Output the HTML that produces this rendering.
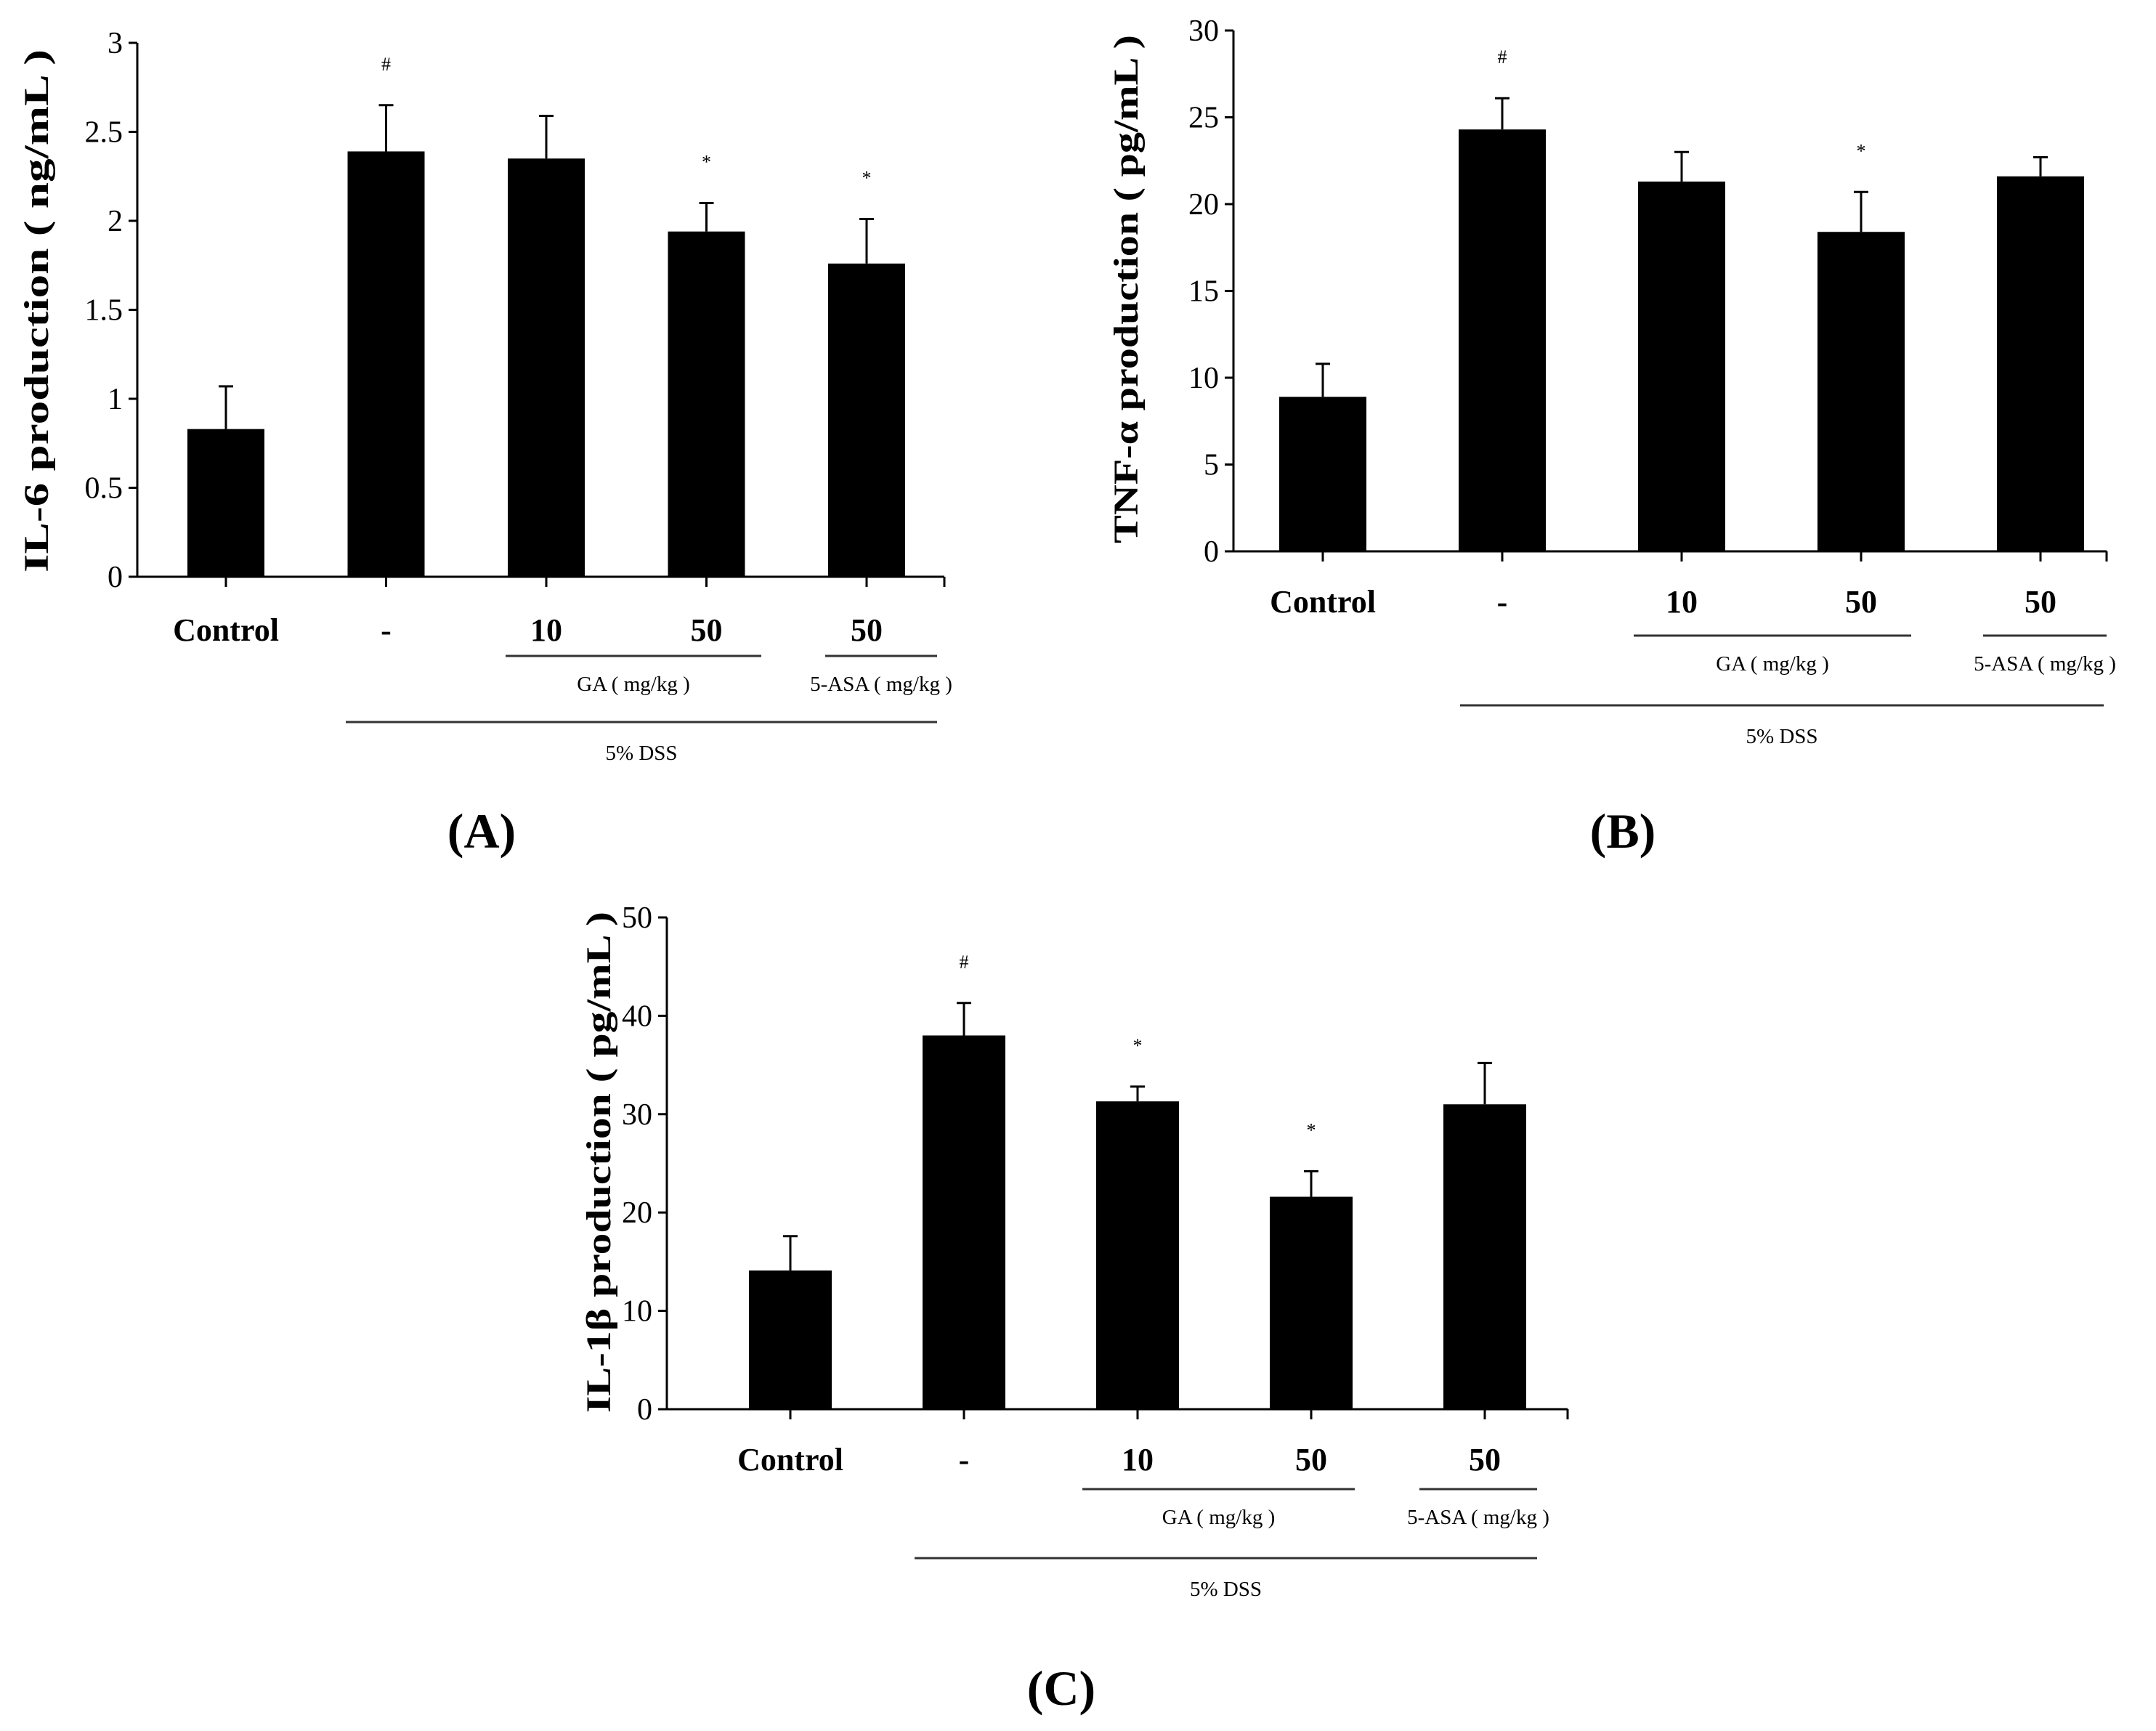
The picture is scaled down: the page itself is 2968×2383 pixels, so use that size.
<!DOCTYPE html>
<html><head><meta charset="utf-8"><style>
html,body{margin:0;padding:0;background:#fff;}
svg{display:block;}
text{font-family:"Liberation Serif",serif;fill:#000;}
</style></head><body>
<svg id="fig" width="2968" height="2383" viewBox="0 0 2968 2383" xmlns="http://www.w3.org/2000/svg"></svg>
<script>
const groups = ["Control","-","10","50","50"];
const il6Values = [0.83, 2.39, 2.35, 1.94, 1.76];
const il6Errors = [0.24, 0.26, 0.24, 0.16, 0.25];
const il6Marks = ["", "#", "", "*", "*"];
const il6Ticks = [0, 0.5, 1, 1.5, 2, 2.5, 3];
const tnfValues = [8.9, 24.3, 21.3, 18.4, 21.6];
const tnfErrors = [1.9, 1.8, 1.7, 2.3, 1.1];
const tnfMarks = ["", "#", "", "*", ""];
const tnfTicks = [0, 5, 10, 15, 20, 25, 30];
const il1bValues = [14.1, 38.0, 31.3, 21.6, 31.0];
const il1bErrors = [3.5, 3.3, 1.5, 2.6, 4.2];
const il1bMarks = ["", "#", "*", "*", ""];
const il1bTicks = [0, 10, 20, 30, 40, 50];

const svg = document.getElementById('fig');
const NS = "http://www.w3.org/2000/svg";
function mk(tag, attrs, parent){
  const e = document.createElementNS(NS, tag);
  for (const k in attrs) e.setAttribute(k, attrs[k]);
  (parent||svg).appendChild(e);
  return e;
}

function panel(cfg){
  const g = mk('g', {});
  
  
  const max = cfg.ticks[cfg.ticks.length-1];
  const y = v => cfg.y0 - (v/max)*(cfg.y0-cfg.yTop);
  const x = i => cfg.x0 + cfg.first + i*cfg.step;
  const ya = mk('line',{x1:cfg.x0,y1:cfg.yTop,x2:cfg.x0,y2:cfg.y0,stroke:'#000','stroke-width':3},g);
   
  const xa = mk('line',{x1:cfg.x0-12,y1:cfg.y0,x2:cfg.xEnd,y2:cfg.y0,stroke:'#000','stroke-width':3},g);
   
  mk('line',{x1:cfg.xEnd,y1:cfg.y0,x2:cfg.xEnd,y2:cfg.y0+14,stroke:'#000','stroke-width':3},g);
  cfg.ticks.forEach(t=>{
    mk('line',{x1:cfg.x0-12,y1:y(t),x2:cfg.x0,y2:y(t),stroke:'#000','stroke-width':3},g);
    const tl = mk('text',{x:cfg.x0-20,y:y(t)+14,'text-anchor':'end','font-size':42},g);
    tl.textContent = t;
     
  });
  cfg.values.forEach((v,i)=>{
    const cx = x(i);
    const b = mk('rect',{x:cx-cfg.bw/2,y:y(v),width:cfg.bw,height:cfg.y0-y(v),fill:'#000'},g);
     
    const top = y(v+cfg.errors[i]);
    const e = mk('line',{x1:cx,y1:y(v),x2:cx,y2:top,stroke:'#000','stroke-width':3},g);
     
    mk('line',{x1:cx-10,y1:top,x2:cx+10,y2:top,stroke:'#000','stroke-width':3},g);
    mk('line',{x1:cx,y1:cfg.y0,x2:cx,y2:cfg.y0+14,stroke:'#000','stroke-width':3},g);
    if (cfg.marks[i]) {
      const m = mk('text',{x:cx,y:top-48,'text-anchor':'middle','font-size':26,fill:'#444'},g);
      m.textContent = cfg.marks[i];
       
    }
    const cl = mk('text',{x:cx,y:cfg.catY,'text-anchor':'middle','font-size':44,'font-weight':'bold'},g);
    cl.textContent = groups[i];
     
  });
  const yt = mk('text',{x:0,y:0,'text-anchor':'middle','font-size':48,'font-weight':'bold',
    transform:`translate(${cfg.titleX},${cfg.titleY}) rotate(-90)`,textLength:cfg.titleLen,lengthAdjust:'spacingAndGlyphs'},g);
  yt.textContent = cfg.title;
   
  const L = cfg.lines;
  mk('line',{x1:L.ga[0],y1:L.ga[1],x2:L.ga[2],y2:L.ga[1],stroke:'#333','stroke-width':3},g);
  mk('line',{x1:L.asa[0],y1:L.asa[1],x2:L.asa[2],y2:L.asa[1],stroke:'#333','stroke-width':3},g);
  mk('line',{x1:L.dss[0],y1:L.dss[1],x2:L.dss[2],y2:L.dss[1],stroke:'#333','stroke-width':3},g);
  const t1 = mk('text',{x:(L.ga[0]+L.ga[2])/2,y:L.ga[1]+48,'text-anchor':'middle','font-size':29},g);
  t1.textContent='GA ( mg/kg )';  
  const t2 = mk('text',{x:(L.asa[0]+L.asa[2])/2,y:L.asa[1]+48,'text-anchor':'middle','font-size':29},g);
  t2.textContent='5-ASA ( mg/kg )';  
  const t3 = mk('text',{x:(L.dss[0]+L.dss[2])/2,y:L.dss[1]+52,'text-anchor':'middle','font-size':29},g);
  t3.textContent='5% DSS';  
  const pl = mk('text',{x:cfg.panelX,y:cfg.panelY,'text-anchor':'middle','font-size':68,'font-weight':'bold'},g);
  pl.textContent = cfg.panelLabel;
   
}

panel({id:'il6',values:il6Values,errors:il6Errors,marks:il6Marks,ticks:il6Ticks,
  x0:189,yTop:59,y0:794,xEnd:1300,first:122,step:220.5,bw:106,catY:882,
  title:'IL-6 production ( ng/mL )',titleX:66,titleY:428,titleLen:720,
  lines:{ga:[696,903,1048],asa:[1136,903,1290],dss:[476,994,1290]},
  panelX:663,panelY:1167,panelLabel:'(A)'});
panel({id:'tnf',values:tnfValues,errors:tnfErrors,marks:tnfMarks,ticks:tnfTicks,
  x0:1698,yTop:42,y0:759,xEnd:2900,first:123,step:247,bw:120,catY:843,
  title:'TNF-α production ( pg/mL )',titleX:1566,titleY:398,titleLen:700,
  lines:{ga:[2249,875,2631],asa:[2730,875,2900],dss:[2010,971,2896]},
  panelX:2234,panelY:1167,panelLabel:'(B)'});
panel({id:'il1b',values:il1bValues,errors:il1bErrors,marks:il1bMarks,ticks:il1bTicks,
  x0:918,yTop:1263,y0:1940,xEnd:2158,first:170,step:239,bw:114,catY:2024,
  title:'IL-1β production ( pg/mL )',titleX:840,titleY:1600,titleLen:690,
  lines:{ga:[1490,2050,1865],asa:[1954,2050,2116],dss:[1259,2145,2116]},
  panelX:1461,panelY:2347,panelLabel:'(C)'});
</script>
</body></html>
